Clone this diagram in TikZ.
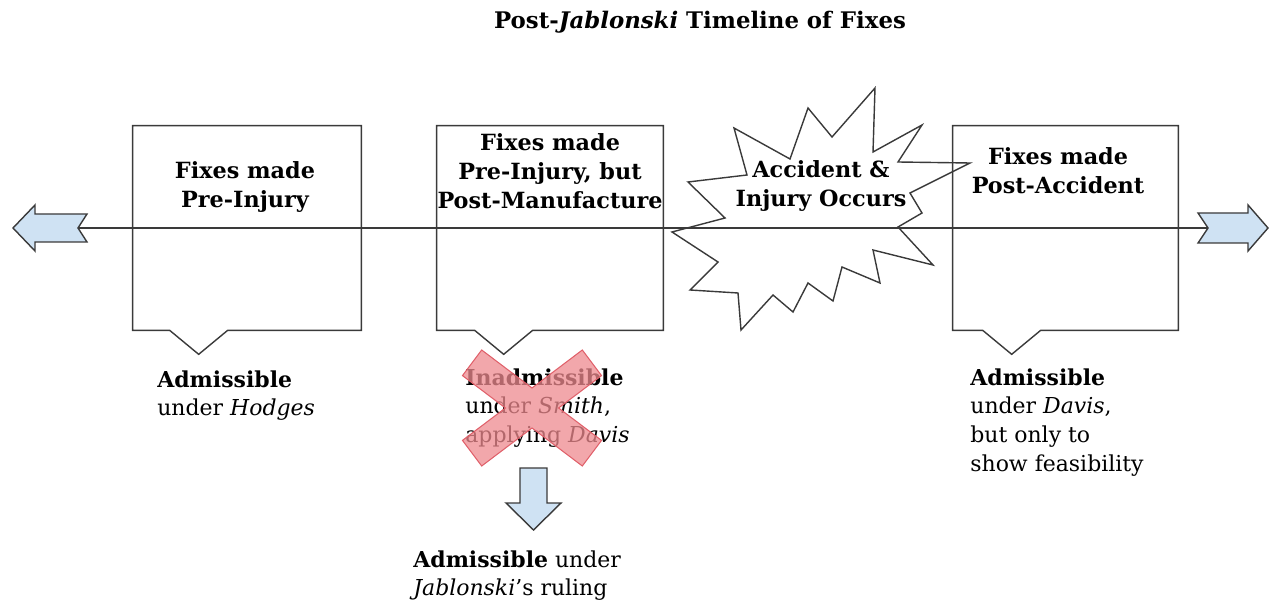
\documentclass[tikz,border=0pt]{standalone}
\usepackage{fontspec}
\setmainfont{DejaVu Serif}
\usetikzlibrary{positioning,calc}
\definecolor{arrowblue}{HTML}{CFE2F3}
\definecolor{linegray}{HTML}{3A3A3A}
\definecolor{crossred}{HTML}{EE8A8F}
\definecolor{crossedge}{HTML}{E0606A}
\tikzstyle{fixbox}=[rectangle,minimum height=4.08cm,inner sep=0pt]
\tikzstyle{fixtext}=[align=center,font=\fontsize{12.7}{16.4}\selectfont\bfseries,inner sep=0pt]
\tikzstyle{ruling}=[align=left,anchor=north west,inner sep=0pt]
\tikzstyle{outline}=[draw=linegray,line width=0.8pt,line join=miter]
\tikzstyle{blockarrow}=[outline,fill=arrowblue]
\tikzstyle{crossbar}=[draw=crossedge,fill=crossred,fill opacity=0.75,line width=0.6pt]
% box outline with the pointer on its lower edge
\newcommand{\callout}[2]{%
  \draw[outline] (#1.north west) -- (#1.north east) -- (#1.south east)
    -- ($(#1.south west)+(#2+58,0)$) -- ++(-29,24) -- ++(-29,-24)
    -- (#1.south west) -- cycle;}

\begin{document}
\begin{tikzpicture}[x=0.02cm,y=-0.02cm,font=\fontsize{12.5}{16.4}\selectfont]
            \useasboundingbox (0,0) rectangle (1270,604);

            \node[font=\fontsize{13}{16.4}\selectfont\bfseries] (title) at (700,22) {Post-\textit{Jablonski} Timeline of Fixes};

            % TIMELINE PART

            \coordinate (lnotch) at (78,228);
            \coordinate (rnotch) at (1208,228);
            \draw[blockarrow] (lnotch) -- ++(9,-14) -- ++(-52,0) -- ++(0,-9) -- ++(-22,23)
                -- ++(22,23) -- ++(0,-9) -- ++(52,0) -- cycle;
            \draw[blockarrow] (rnotch) -- ++(-10,-15) -- ++(50,0) -- ++(0,-8) -- ++(20,23)
                -- ++(-20,23) -- ++(0,-8) -- ++(-50,0) -- cycle;
            \draw[outline] (lnotch) -- (rnotch);

            % BOXES PART

            \node[fixbox,minimum width=4.56cm] (prebox) at (247,228) {};
            \node[fixbox,minimum width=4.52cm] (midbox) at (550,228) {};
            \node[fixbox,minimum width=4.50cm] (postbox) at (1065.5,228) {};
            \callout{prebox}{37}
            \callout{midbox}{38}
            \callout{postbox}{30}

            \node[fixtext] (pretext) at (245,187) {Fixes made\\Pre-Injury};
            \node[fixtext] (midtext) at (550,171) {Fixes made\\Pre-Injury, but\\Post-Manufacture};
            \node[fixtext] (posttext) at (1058,171) {Fixes made\\Post-Accident};

            % ACCIDENT PART

            \node[fixtext] (accident) at (821,186) {Accident \&\\Injury Occurs};
            \draw[outline] (672,232) -- (725,218) -- (688,182) -- (747,175) -- (734,128)
                -- (790,159) -- (808,108) -- (832,137) -- (875,88) -- (873,152)
                -- (922,125) -- (898,162) -- (970,163) -- (910,193) -- (922,213)
                -- (898,227) -- (933,265) -- (873,250) -- (880,283) -- (842,267)
                -- (833,301) -- (808,283) -- (793,312) -- (773,295) -- (741,330)
                -- (738,293) -- (690,290) -- (718,262) -- cycle;

            % RULINGS PART

            \node[ruling] (hodges) at (157,370) {\textbf{Admissible}\\under \textit{Hodges}};
            \node[ruling] (smith) at (465,368) {\textbf{Inadmissible}\\under \textit{Smith},\\applying \textit{Davis}};
            \node[ruling] (davis) at (970,368) {\textbf{Admissible}\\under \textit{Davis},\\but only to\\show feasibility};
            \node[ruling] (jablonski) at (413,550) {\textbf{Admissible} under\\\textit{Jablonski}'s ruling};

            \draw[crossbar] (481.7,350) -- (532,388) -- (582.3,350) -- (601.5,375.6) -- (558.6,408)
                -- (601.5,440.4) -- (582.3,466) -- (532,428) -- (481.7,466) -- (462.5,440.4)
                -- (505.4,408) -- (462.5,375.6) -- cycle;

            \coordinate (down) at (533.5,468);
            \draw[blockarrow] (down) ++(-13.5,0) -- ++(27,0) -- ++(0,35) -- ++(14,0)
                -- ++(-27.5,27) -- ++(-27.5,-27) -- ++(14,0) -- cycle;

        \end{tikzpicture}
\end{document}
